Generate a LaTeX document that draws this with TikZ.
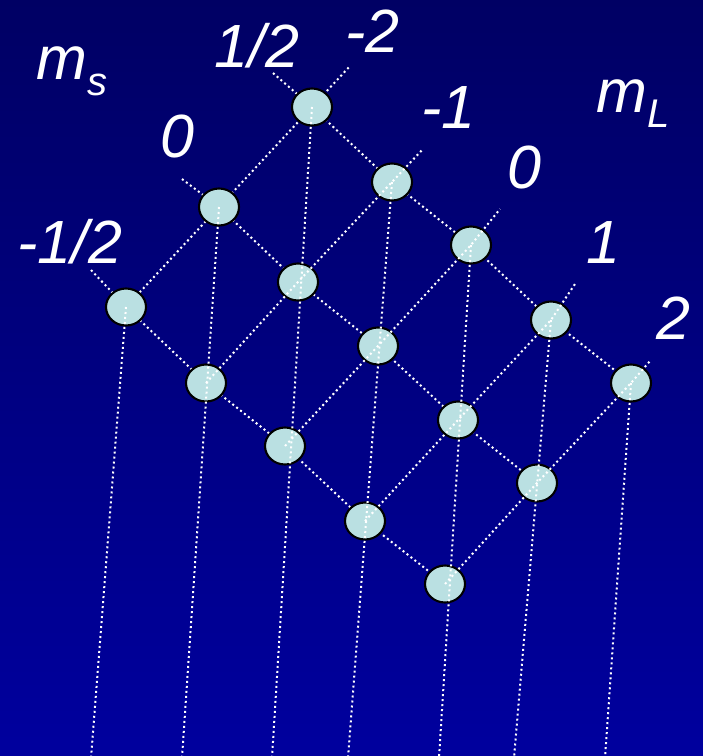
\documentclass[tikz,border=0pt]{standalone}
\usepackage{fontspec}
\setmainfont{Liberation Sans}
\usetikzlibrary{shapes.geometric}
\definecolor{bgtop}{RGB}{0,0,100}
\definecolor{bgbot}{RGB}{0,0,158}
\definecolor{ballfill}{RGB}{186,224,226}
\begin{document}
\begin{tikzpicture}[x=1pt,y=-1pt,
  ball/.style={ellipse, draw=black, line width=2.1pt, fill=ballfill,
    minimum width=40pt, minimum height=37pt, inner sep=0pt},
  dotline/.style={white, line width=2pt, dash pattern=on 2pt off 3pt},
  lab/.style={anchor=base west, text=white, inner sep=0pt,
    font=\fontsize{61}{61}\selectfont\itshape}]
\useasboundingbox (0,0) rectangle (703,756);
\shade[top color=bgtop, bottom color=bgbot] (0,0) rectangle (703,756);

% free ends
\coordinate (r0) at (273,73);
\coordinate (r1) at (182,179);
\coordinate (r2) at (91,270);
\coordinate (k0) at (350,66);
\coordinate (k1) at (423,149);
\coordinate (k2) at (500,209);
\coordinate (k3) at (575,284);
\coordinate (k4) at (650,361);
\coordinate (b0) at (91,758);
\coordinate (b1) at (182,758);
\coordinate (b2) at (272,758);
\coordinate (b3) at (348,758);
\coordinate (b4) at (439,758);
\coordinate (b5) at (514,758);
\coordinate (b6) at (605,758);

% circle positions
\path (312,107) coordinate (p00) (392,182) coordinate (p01) (471,245) coordinate (p02)
      (551,320) coordinate (p03) (631,383) coordinate (p04)
      (219,207) coordinate (p10) (298,282) coordinate (p11) (378,346) coordinate (p12)
      (458,420) coordinate (p13) (537,483) coordinate (p14)
      (126,307) coordinate (p20) (206,383) coordinate (p21) (285,446) coordinate (p22)
      (365,521) coordinate (p23) (445,584) coordinate (p24);

% lines behind the circles
\draw[dotline] (r0) -- (p00) -- (p01) -- (p02) -- (p03) -- (p04);
\draw[dotline] (r1) -- (p10) -- (p11) -- (p12) -- (p13) -- (p14);
\draw[dotline] (r2) -- (p20) -- (p21) -- (p22) -- (p23) -- (p24);
\draw[dotline] (p20) -- (p10) -- (p00) -- (k0);

% circles
\foreach \n in {00,01,02,03,04,10,11,12,13,14,20,21,22,23,24}
  \node[ball] (c\n) at (p\n) {};

% lines over the circles
\draw[dotline] (c21.center) -- (c11.center) -- (c01.center) -- (k1);
\draw[dotline] (c22.center) -- (c12.center) -- (c02.center) -- (k2);
\draw[dotline] (c23.center) -- (c13.center) -- (c03.center) -- (k3);
\draw[dotline] (c24.center) -- (c14.center) -- (c04.center) -- (k4);

\draw[dotline] (c20.center) -- (b0);
\draw[dotline] (c10.center) -- (b1);
\draw[dotline] (c00.center) -- (b2);
\draw[dotline] (c01.center) -- (b3);
\draw[dotline] (c02.center) -- (b4);
\draw[dotline] (c03.center) -- (b5);
\draw[dotline] (c04.center) -- (b6);

% labels
\node[lab] (ms) at (36,79) {m\raisebox{-16pt}{\fontsize{40}{40}\selectfont s}};
\node[lab] (mL) at (596,112) {m\raisebox{-15pt}{\fontsize{40}{40}\selectfont L}};
\node[lab] (s1) at (214,67) {1/2};
\node[lab] (s2) at (160,157) {0};
\node[lab] (s3) at (17,263) {-1/2};
\node[lab] (l1) at (345,52) {-2};
\node[lab] (l2) at (421,128) {-1};
\node[lab] (l3) at (507,188) {0};
\node[lab] (l4) at (586,263) {1};
\node[lab] (l5) at (656,339) {2};
\end{tikzpicture}
\end{document}
